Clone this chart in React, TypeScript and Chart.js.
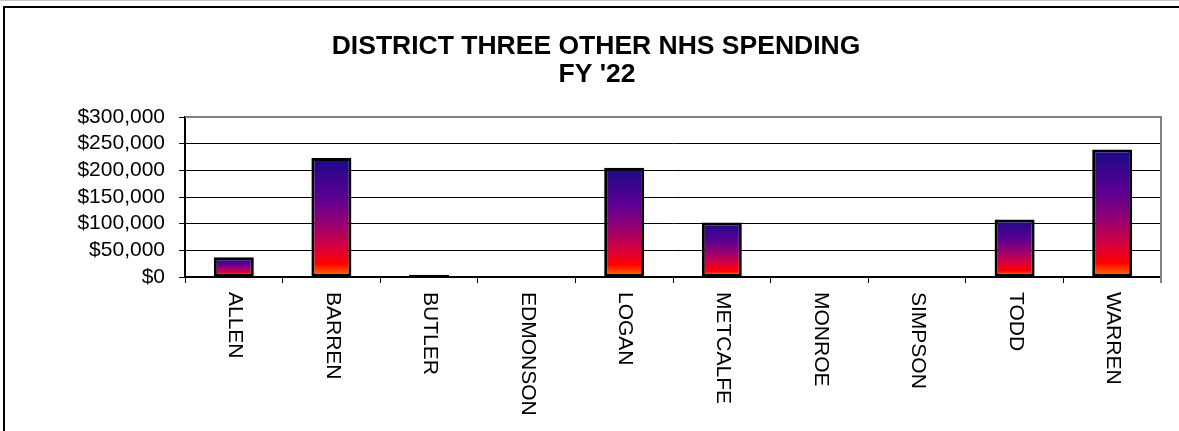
import React, { useEffect, useRef } from 'react';
import { Chart, registerables } from 'chart.js';

Chart.register(...registerables);

const categories = ['ALLEN', 'BARREN', 'BUTLER', 'EDMONSON', 'LOGAN', 'METCALFE', 'MONROE', 'SIMPSON', 'TODD', 'WARREN'];
const spending = [37000, 223000, 4000, 0, 205000, 102000, 0, 0, 108000, 239000];
const yTicks = [0, 50000, 100000, 150000, 200000, 250000, 300000];
const titleLines = ['DISTRICT THREE OTHER NHS SPENDING', "FY '22"];

const FONT = '"Liberation Sans", Arial, sans-serif';
const W = 1179;
const H = 431;

const gradientStops: [number, string][] = [
  [0, '#1a0a88'],
  [0.33, '#5a0092'],
  [0.55, '#960074'],
  [0.75, '#d6003e'],
  [0.89, '#ff0000'],
  [1, '#ff8000'],
];

const framePlugin = {
  id: 'framePlugin',
  beforeDraw(chart: any) {
    const ctx = chart.ctx;
    ctx.save();
    ctx.fillStyle = '#ffffff';
    ctx.fillRect(0, 0, W, H);
    ctx.strokeStyle = '#c8c8c8';
    ctx.lineWidth = 1;
    ctx.beginPath();
    ctx.moveTo(0, 0.5);
    ctx.lineTo(W, 0.5);
    ctx.stroke();
    ctx.strokeStyle = '#000';
    ctx.lineWidth = 2;
    ctx.beginPath();
    ctx.moveTo(4, H);
    ctx.lineTo(4, 7);
    ctx.lineTo(W, 7);
    ctx.stroke();
    // title
    ctx.fillStyle = '#000';
    ctx.font = 'bold 26.5px ' + FONT;
    ctx.textAlign = 'center';
    ctx.textBaseline = 'alphabetic';
    ctx.fillText(titleLines[0], 596, 54);
    ctx.fillText(titleLines[1], 597, 82);
    ctx.restore();
  },
  afterDraw(chart: any) {
    const ctx = chart.ctx;
    const area = chart.chartArea;
    const xs = chart.scales.x;
    ctx.save();
    ctx.strokeStyle = '#808080';
    ctx.lineWidth = 2;
    ctx.beginPath();
    ctx.moveTo(area.left, area.top);
    ctx.lineTo(area.right, area.top);
    ctx.lineTo(area.right, area.bottom + 6);
    ctx.stroke();
    ctx.fillStyle = '#000';
    ctx.font = '21px ' + FONT;
    ctx.textAlign = 'left';
    ctx.textBaseline = 'middle';
    categories.forEach((c, i) => {
      const x = xs.getPixelForValue(i);
      ctx.save();
      ctx.translate(x + 1, 292);
      ctx.rotate(Math.PI / 2);
      ctx.fillText(c, 0, 0);
      ctx.restore();
    });
    ctx.restore();
  },
};

function barGradient(context: any) {
  const chart = context.chart;
  const y = chart.scales && chart.scales.y;
  if (!y || context.type !== 'data') return '#800080';
  const v = context.parsed ? context.parsed.y : 0;
  const top = y.getPixelForValue(v);
  const base = y.getPixelForValue(0);
  if (!isFinite(top) || !isFinite(base) || base - top < 4) return '#000000';
  const g = chart.ctx.createLinearGradient(0, top, 0, base);
  gradientStops.forEach(([o, c]) => g.addColorStop(o, c));
  return g;
}

export default function App() {
  const ref = useRef<HTMLCanvasElement | null>(null);
  useEffect(() => {
    document.body.style.margin = '0';
    const canvas = ref.current;
    if (!canvas) return;
    const chart = new Chart(canvas, {
      type: 'bar',
      data: {
        labels: categories,
        datasets: [
          {
            data: spending,
            backgroundColor: barGradient as any,
            borderColor: '#000000',
            borderWidth: 3,
            borderSkipped: false,
            barPercentage: 0.41,
            categoryPercentage: 1,
          },
        ],
      },
      options: {
        animation: false,
        responsive: false,
        maintainAspectRatio: false,
        devicePixelRatio: 1,
        layout: { padding: { top: 117, right: 18, left: 0, bottom: 0 } },
        plugins: {
          legend: { display: false },
          title: { display: false },
          tooltip: { enabled: false },
        },
        scales: {
          x: {
            type: 'category',
            offset: true,
            grid: {
              offset: true,
              drawOnChartArea: false,
              drawTicks: true,
              tickLength: 6,
              color: '#000',
              lineWidth: 1,
            },
            border: { color: '#000', width: 2 },
            ticks: { display: false },
            afterFit: (s: any) => {
              s.height = 154;
            },
          },
          y: {
            min: 0,
            max: 300000,
            afterBuildTicks: (s: any) => {
              s.ticks = yTicks.map((v) => ({ value: v }));
            },
            ticks: {
              autoSkip: false,
              color: '#000',
              font: { family: FONT, size: 21 },
              padding: 14,
              callback: (v: any) => '$' + Number(v).toLocaleString('en-US'),
            },
            grid: {
              color: '#000',
              lineWidth: 1,
              tickLength: 6,
            },
            border: { color: '#000', width: 2 },
            afterFit: (s: any) => {
              s.width = 185;
            },
          },
        },
      },
      plugins: [framePlugin],
    });
    return () => chart.destroy();
  }, []);
  return <canvas ref={ref} width={W} height={H} style={{ display: 'block', width: W, height: H }} />;
}
